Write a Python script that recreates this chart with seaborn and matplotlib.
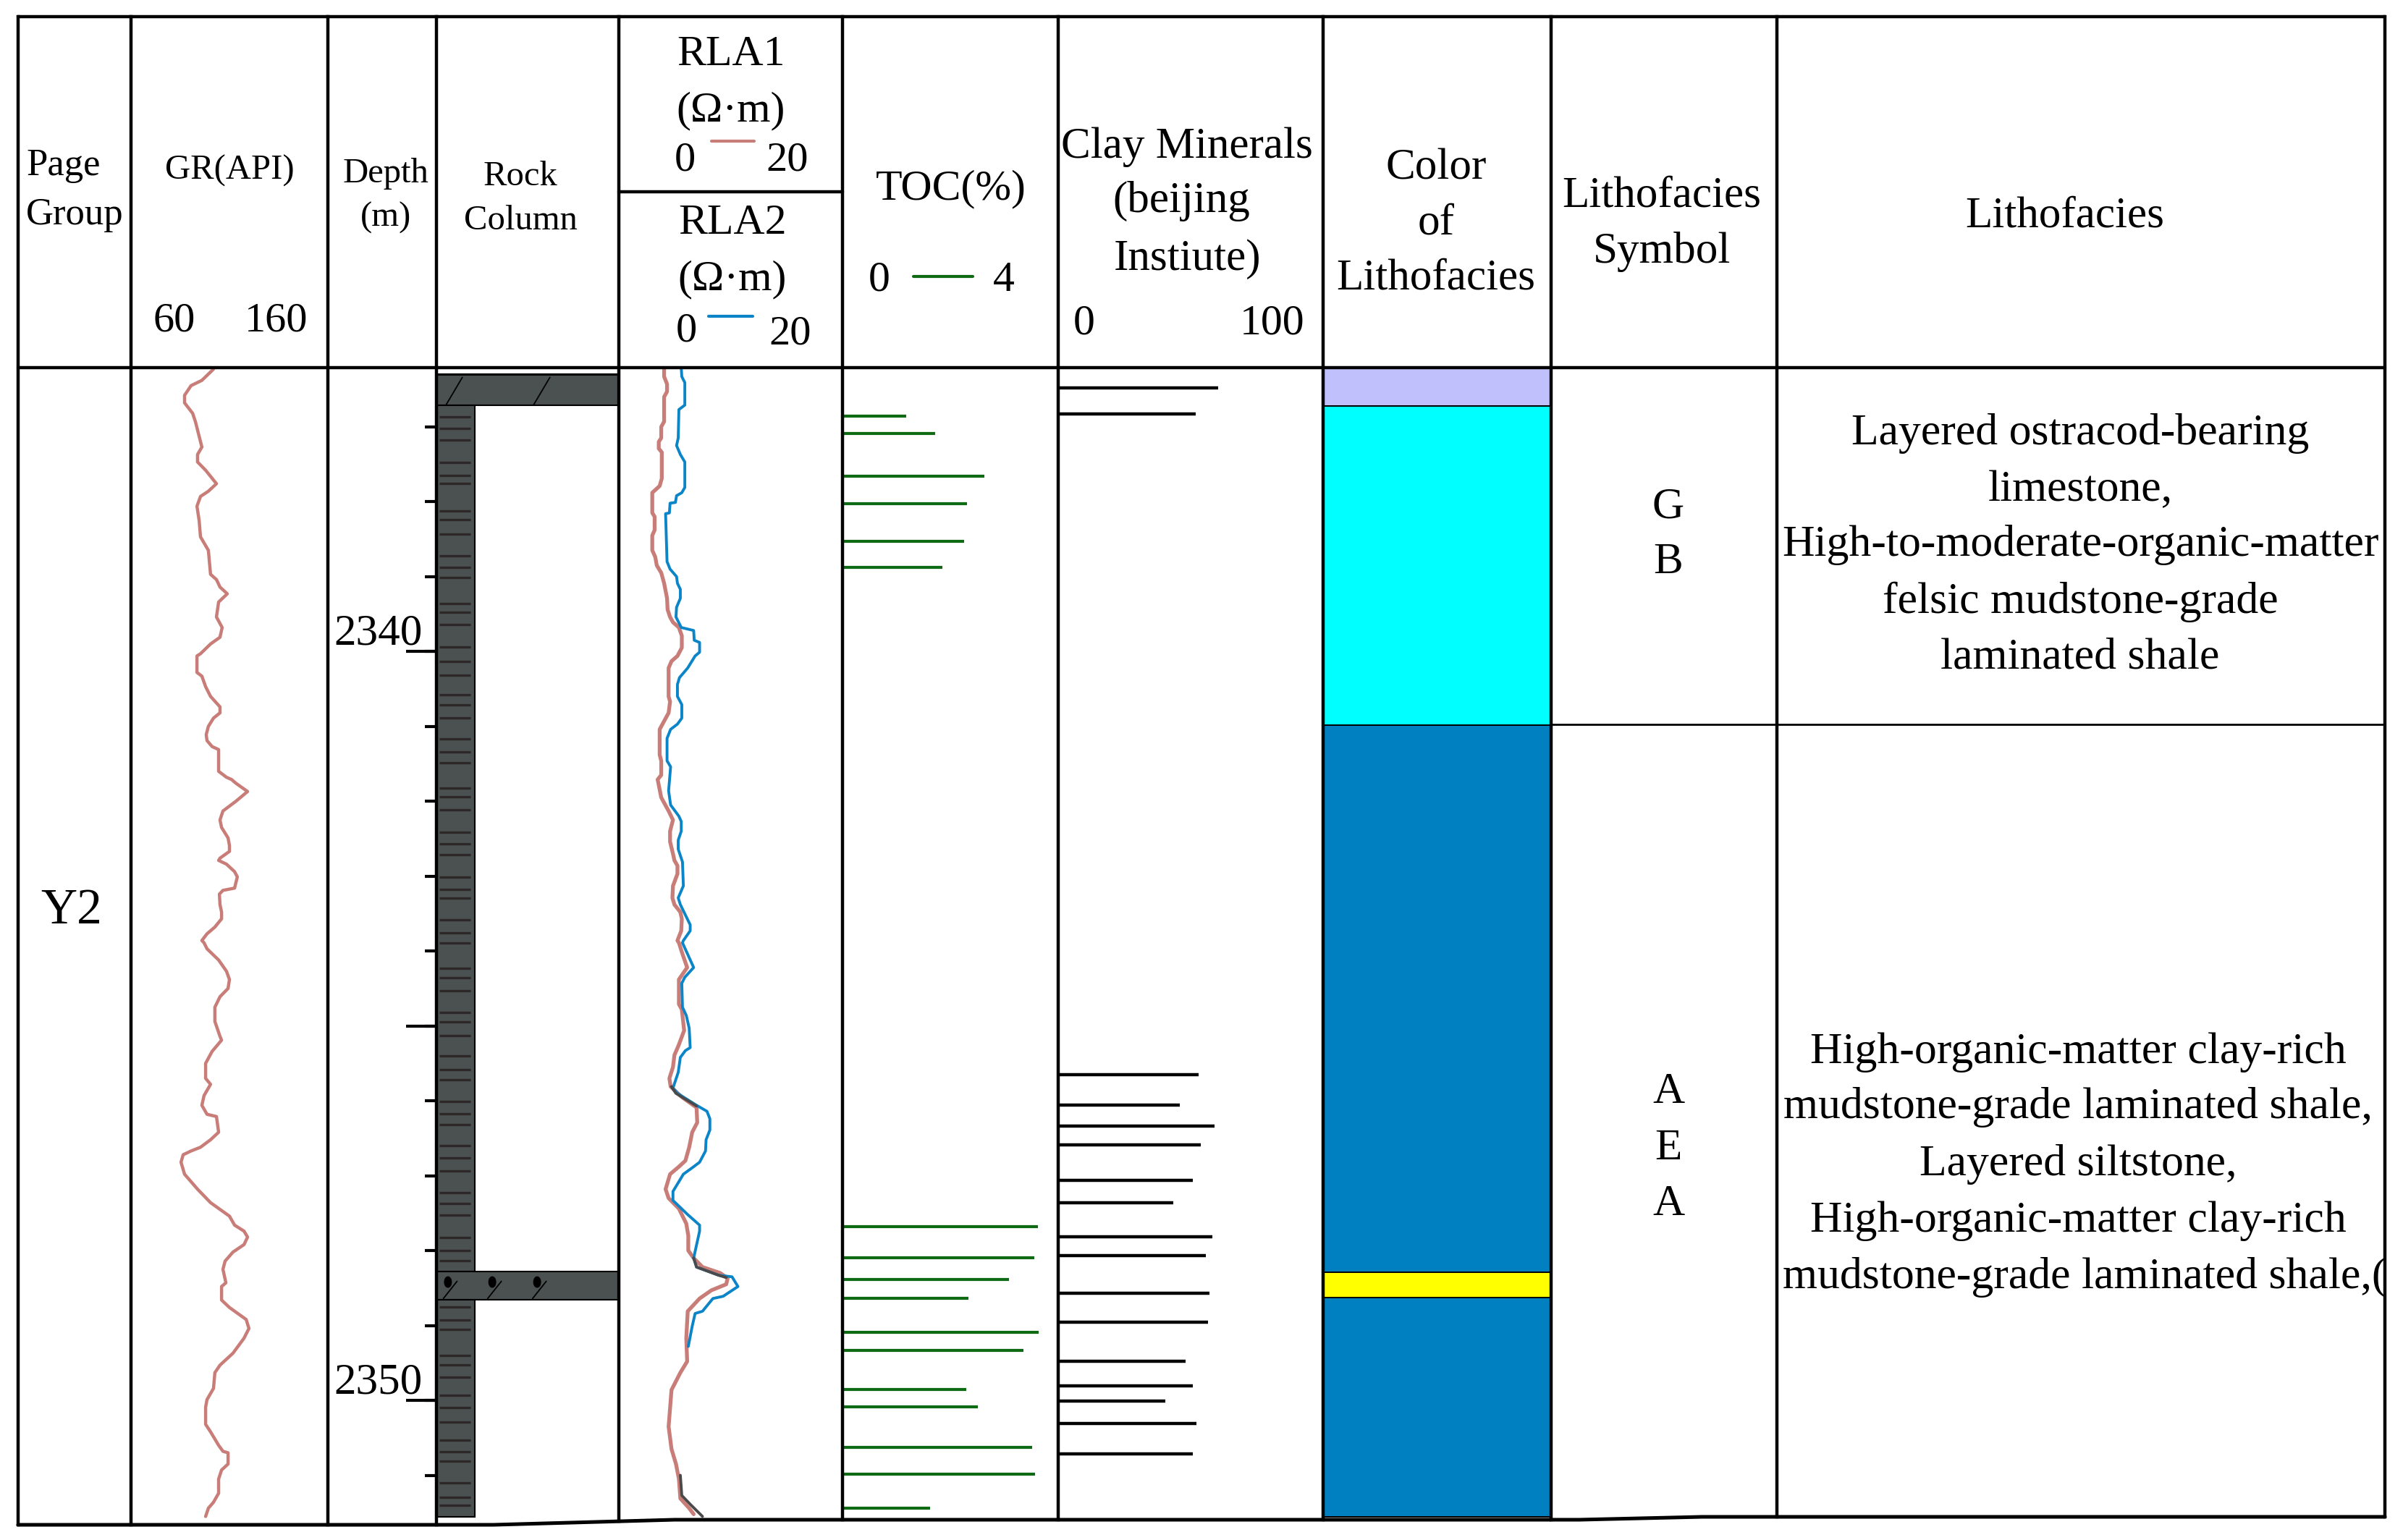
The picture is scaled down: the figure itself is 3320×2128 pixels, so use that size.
import numpy as np
import pandas as pd
import matplotlib
matplotlib.use("Agg")
import matplotlib.pyplot as plt
import seaborn as sns
from matplotlib.patches import Ellipse

sns.set_theme(style="white")
plt.rcParams["font.family"] = ["Liberation Serif", "DejaVu Serif"]

# ---------------- data ----------------
gr_depth = [2336.23, 2336.38, 2336.45, 2336.58, 2336.68, 2336.82, 2336.93, 2337.20, 2337.27, 2337.37,
            2337.47, 2337.58, 2337.76, 2337.86, 2337.93, 2338.06, 2338.25, 2338.47, 2338.65, 2338.97,
            2339.04, 2339.14, 2339.23, 2339.34, 2339.54, 2339.68, 2339.81, 2339.90, 2340.03, 2340.06,
            2340.28, 2340.33, 2340.47, 2340.60, 2340.74, 2340.82, 2340.89, 2341.00, 2341.11, 2341.19,
            2341.27, 2341.31, 2341.60, 2341.68, 2341.71, 2341.76, 2341.87, 2342.00, 2342.13, 2342.25,
            2342.35, 2342.49, 2342.59, 2342.67, 2342.76, 2342.79, 2342.84, 2342.94, 2343.01, 2343.16,
            2343.19, 2343.24, 2343.38, 2343.48, 2343.57, 2343.68, 2343.77, 2343.86, 2343.89, 2343.97,
            2344.12, 2344.27, 2344.38, 2344.50, 2344.61, 2344.75, 2344.94, 2345.14, 2345.19, 2345.34,
            2345.50, 2345.70, 2345.78, 2345.93, 2346.06, 2346.18, 2346.21, 2346.42, 2346.52, 2346.62,
            2346.67, 2346.72, 2346.82, 2346.98, 2347.18, 2347.36, 2347.54, 2347.66, 2347.74, 2347.82,
            2347.92, 2348.02, 2348.14, 2348.25, 2348.43, 2348.48, 2348.66, 2348.76, 2348.92, 2349.04,
            2349.17, 2349.37, 2349.53, 2349.63, 2349.84, 2349.99, 2350.09, 2350.32, 2350.42, 2350.60,
            2350.68, 2350.70, 2350.85, 2350.93, 2351.05, 2351.24, 2351.36, 2351.44, 2351.55]
gr_api = [101.9, 96.0, 90.5, 87.2, 87.2, 91.3, 92.7, 95.3, 96.0, 93.8,
          93.8, 97.9, 103.4, 99.3, 95.3, 93.5, 94.6, 95.3, 99.3, 100.4,
          103.4, 105.2, 108.9, 104.5, 103.4, 106.3, 105.2, 100.4, 95.3, 93.5,
          93.5, 96.0, 97.9, 100.4, 105.2, 105.2, 101.9, 99.3, 98.2, 98.6,
          101.2, 104.5, 104.5, 108.5, 111.1, 113.3, 119.2, 113.3, 106.7, 105.2,
          106.0, 109.3, 110.0, 110.0, 105.2, 104.5, 108.5, 112.6, 114.0, 112.6,
          106.7, 104.9, 105.2, 106.0, 106.0, 102.6, 98.6, 96.0, 97.1, 98.6,
          104.5, 108.5, 110.0, 109.3, 105.2, 102.6, 102.6, 105.2, 106.0, 101.2,
          97.9, 97.9, 100.4, 97.1, 96.0, 98.6, 103.4, 104.5, 100.4, 95.3,
          90.5, 86.5, 85.4, 87.2, 93.8, 100.4, 110.0, 112.6, 117.4, 119.2,
          117.4, 111.8, 107.8, 106.7, 108.2, 106.0, 106.0, 110.0, 118.5, 119.9,
          117.4, 111.8, 105.2, 102.6, 101.9, 98.6, 97.9, 97.9, 100.4, 104.5,
          106.7, 109.3, 109.3, 106.0, 104.5, 104.5, 101.9, 99.3, 97.9]

rla1_depth = [2336.22, 2336.33, 2336.43, 2336.53, 2336.60, 2336.93, 2337.00, 2337.15, 2337.20, 2337.29,
              2337.34, 2337.69, 2337.79, 2337.88, 2338.15, 2338.20, 2338.38, 2338.45, 2338.65, 2338.74,
              2338.85, 2338.95, 2339.09, 2339.29, 2339.44, 2339.54, 2339.61, 2339.68, 2339.79, 2339.95,
              2340.06, 2340.13, 2340.22, 2340.60, 2340.67, 2340.82, 2341.04, 2341.38, 2341.46, 2341.65,
              2341.71, 2341.95, 2342.13, 2342.25, 2342.40, 2342.54, 2342.70, 2342.79, 2342.86, 2342.97,
              2343.13, 2343.29, 2343.38, 2343.48, 2343.57, 2343.73, 2343.86, 2343.89, 2344.04, 2344.22,
              2344.38, 2344.71, 2344.78, 2345.06, 2345.25, 2345.39, 2345.55, 2345.70, 2345.81, 2345.95,
              2346.09, 2346.29, 2346.42, 2346.62, 2346.80, 2346.88, 2346.98, 2347.18, 2347.30, 2347.44,
              2347.64, 2347.80, 2348.00, 2348.10, 2348.22, 2348.30, 2348.37, 2348.45, 2348.53, 2348.64,
              2348.81, 2349.17, 2349.48, 2349.63, 2349.86, 2350.35, 2350.65, 2350.85, 2351.05, 2351.31,
              2351.44, 2351.52]
rla1_ohm = [4.05, 4.05, 4.31, 4.31, 4.05, 4.05, 3.79, 3.79, 3.57, 3.57,
            3.84, 3.84, 3.65, 2.99, 2.99, 3.20, 3.20, 2.99, 2.99, 3.26,
            3.39, 3.79, 4.05, 4.31, 4.36, 4.58, 4.84, 5.37, 5.63, 5.63,
            5.24, 4.71, 4.45, 4.45, 4.58, 4.45, 3.65, 3.65, 3.79, 3.79,
            3.47, 3.79, 4.45, 4.84, 4.58, 4.58, 4.84, 4.97, 5.24, 5.24,
            4.84, 4.79, 4.97, 5.50, 5.63, 5.58, 5.24, 5.37, 5.69, 6.11,
            5.37, 5.37, 5.63, 5.84, 5.37, 4.97, 4.84, 4.52, 4.63, 5.63,
            6.95, 7.01, 6.56, 6.29, 5.95, 5.37, 4.58, 4.18, 4.45, 5.37,
            6.03, 6.21, 6.21, 6.69, 7.48, 9.07, 9.73, 9.60, 8.28, 7.22,
            6.16, 6.03, 6.11, 5.50, 4.71, 4.45, 4.71, 5.11, 5.37, 5.50,
            6.29, 6.69]

rla2_depth = [2336.21, 2336.33, 2336.41, 2336.71, 2336.77, 2337.15, 2337.25, 2337.37, 2337.47, 2337.81,
              2337.88, 2337.92, 2338.01, 2338.02, 2338.15, 2338.16, 2338.80, 2338.90, 2339.00, 2339.09,
              2339.17, 2339.29, 2339.41, 2339.54, 2339.68, 2339.72, 2339.85, 2339.88, 2340.01, 2340.06,
              2340.22, 2340.35, 2340.44, 2340.60, 2340.71, 2340.89, 2340.97, 2341.04, 2341.16, 2341.46,
              2341.54, 2341.86, 2342.05, 2342.20, 2342.27, 2342.40, 2342.52, 2342.64, 2342.81, 2343.13,
              2343.29, 2343.38, 2343.65, 2343.73, 2343.86, 2343.89, 2344.22, 2344.35, 2344.43, 2344.75,
              2344.86, 2345.03, 2345.29, 2345.33, 2345.42, 2345.62, 2345.83, 2345.90, 2346.06, 2346.14,
              2346.24, 2346.39, 2346.52, 2346.67, 2346.82, 2346.88, 2346.98, 2347.21, 2347.33, 2347.52,
              2347.66, 2347.74, 2348.10, 2348.22, 2348.33, 2348.35, 2348.48, 2348.61, 2348.64, 2348.81,
              2348.84, 2349.01, 2349.28]
rla2_ohm = [5.58, 5.63, 5.90, 5.90, 5.37, 5.31, 5.16, 5.50, 5.90, 5.90,
            5.63, 5.16, 5.06, 4.58, 4.52, 4.18, 4.31, 4.58, 5.16, 5.24,
            5.50, 5.50, 5.16, 5.11, 5.58, 6.69, 6.74, 7.22, 7.22, 6.82,
            6.16, 5.42, 5.24, 5.24, 5.63, 5.63, 5.24, 4.63, 4.31, 4.31,
            4.63, 4.45, 4.63, 5.37, 5.58, 5.58, 5.31, 5.31, 5.69, 5.77,
            5.31, 5.50, 6.38, 6.38, 5.77, 5.69, 6.69, 5.90, 5.63, 5.69,
            6.03, 6.29, 6.38, 5.95, 5.50, 5.31, 4.84, 5.24, 6.95, 7.88,
            8.14, 8.14, 7.80, 7.75, 7.22, 6.69, 5.77, 4.84, 4.84, 6.16,
            7.22, 7.22, 6.69, 6.95, 8.94, 10.12, 10.65, 9.33, 8.41, 7.48,
            6.82, 6.56, 6.21]

# overlapping (dark) pieces of the resistivity curves
ovl_seg = [1, 1, 1, 2, 2, 2, 2, 3, 3, 3, 3]
ovl_depth = [2345.81, 2345.90, 2346.07, 2348.10, 2348.22, 2348.33, 2348.36, 2351.00, 2351.27, 2351.39, 2351.55]
ovl_ohm = [4.70, 5.10, 6.95, 6.69, 6.95, 8.94, 9.60, 5.50, 5.63, 6.40, 7.48]

toc_depth = [2336.86, 2337.09, 2337.66, 2338.03, 2338.53, 2338.88, 2347.68, 2348.10, 2348.39,
             2348.64, 2349.09, 2349.33, 2349.85, 2350.09, 2350.63, 2350.99, 2351.44]
toc_pct = [1.18, 1.72, 2.63, 2.31, 2.25, 1.85, 3.62, 3.56, 3.09,
           2.34, 3.64, 3.36, 2.30, 2.51, 3.52, 3.57, 1.62]

clay_depth = [2336.48, 2336.83, 2345.65, 2346.06, 2346.34, 2346.59, 2347.06, 2347.36, 2347.82,
              2348.07, 2348.57, 2348.96, 2349.48, 2349.81, 2350.01, 2350.31, 2350.71]
clay_pct = [60.4, 51.9, 53.0, 45.9, 59.0, 53.8, 50.8, 43.4, 58.2,
            55.7, 57.1, 56.6, 48.1, 50.8, 40.4, 52.2, 50.8]

color_top = [2336.22, 2336.72, 2340.98, 2348.29, 2348.63]
color_bottom = [2336.72, 2340.98, 2348.29, 2348.63, 2351.56]
color_fill = ["#c0c0fc", "#00ffff", "#0080c0", "#ffff00", "#0080c0"]

rock_top = [2336.30, 2336.71, 2348.28, 2348.66]
rock_bottom = [2336.71, 2348.28, 2348.66, 2351.56]
rock_width = [1.0, 0.21, 1.0, 0.21]
lamination_depth = [2336.87, 2337.02, 2337.18, 2337.48, 2337.65, 2337.76, 2338.12, 2338.24, 2338.43,
                    2338.72, 2338.88, 2339.01, 2339.36, 2339.48, 2339.64, 2339.94, 2340.13, 2340.32,
                    2340.58, 2340.71, 2340.89, 2341.17, 2341.34, 2341.49, 2341.82, 2341.94, 2342.11,
                    2342.41, 2342.57, 2342.71, 2343.01, 2343.18, 2343.29, 2343.58, 2343.76, 2343.89,
                    2344.23, 2344.36, 2344.53, 2344.82, 2344.95, 2345.13, 2345.40, 2345.58, 2345.72,
                    2346.01, 2346.17, 2346.32, 2346.60, 2346.76, 2346.94, 2347.23, 2347.37, 2347.53,
                    2347.83, 2348.00, 2348.13, 2348.75, 2348.93, 2349.05, 2349.40, 2349.53, 2349.69,
                    2349.93, 2350.10, 2350.29, 2350.53, 2350.69, 2350.81, 2351.10, 2351.29, 2351.40]
ostracod_x = [0.063, 0.306, 0.552]
ostracod_depth = 2348.42
limestone_x = [0.052, 0.532]

depth_ticks = list(range(2337, 2352))
depth_major = [2340, 2345, 2350]
depth_labels = [2340, 2350]

group_name = "Y2"
facies_symbols = ["G\nB", "A\nE\nA"]
facies_text_upper = ["Layered ostracod-bearing", "limestone,", "High-to-moderate-organic-matter",
                     "felsic mudstone-grade", "laminated shale"]
facies_text_lower = ["High-organic-matter clay-rich", "mudstone-grade laminated shale,",
                     "Layered siltstone,", "High-organic-matter clay-rich",
                     "mudstone-grade laminated shale,("]

# ---------------- layout ----------------
W, H, DPI = 3320, 2128, 100
DEPTH_TOP, DEPTH_BOT = 2336.21, 2351.594
BODY_TOP, BODY_BOT = 508, 2100
GR_COL = "#c97d78"
BLUE_COL = "#0b84c8"
GREEN_COL = "#0f6a14"
ROCK_COL = "#4b5151"

fig = plt.figure(figsize=(W / DPI, H / DPI), dpi=DPI)
fig.patch.set_facecolor("white")


def px_axes(x0, y0, x1, y1, z=1):
    ax = fig.add_axes([x0 / W, 1 - y1 / H, (x1 - x0) / W, (y1 - y0) / H], zorder=z)
    ax.set_axis_off()
    return ax


def track(x0, x1, xlim):
    ax = px_axes(x0, BODY_TOP, x1, BODY_BOT)
    ax.set_xlim(*xlim)
    ax.set_ylim(DEPTH_BOT, DEPTH_TOP)
    return ax


# GR track
ax_gr = track(181, 453, (60, 160))
sns.lineplot(x=gr_api, y=gr_depth, sort=False, estimator=None, orient="y",
             color=GR_COL, linewidth=3.2, ax=ax_gr)
ax_gr.set_xlim(60, 160); ax_gr.set_ylim(DEPTH_BOT, DEPTH_TOP); ax_gr.set_axis_off()

# Depth track
ax_d = track(453, 603, (0, 1))
ax_d.hlines(depth_ticks, 0.893, 1.0, color="black", lw=3)
ax_d.hlines(depth_major, 0.72, 1.0, color="black", lw=3)
for d in depth_labels:
    ax_d.text(0.873, d - 0.097, str(d), ha="right", va="baseline", fontsize=44, color="black")

# Rock column
ax_r = track(603, 855, (0, 1))
for t, b, w in zip(rock_top, rock_bottom, rock_width):
    ax_r.barh(y=(t + b) / 2, width=w, height=b - t, left=0, color=ROCK_COL,
              edgecolor="black", linewidth=1.5)
ax_r.hlines(lamination_depth, 0.016, 0.187, color="#2d2727", lw=2.4)
for lx in limestone_x:
    ax_r.plot([lx, lx + 0.09], [rock_bottom[0], rock_top[0] + 0.04], color="black", lw=1.3)
for ox in ostracod_x:
    ax_r.add_patch(Ellipse((ox, ostracod_depth), 0.038, 0.14, color="black"))
    ax_r.plot([ox - 0.025, ox + 0.05], [ostracod_depth + 0.22, ostracod_depth - 0.01],
              color="black", lw=1.3)

# Resistivity track
ax_rla = track(855, 1164, (0, 20))
sns.lineplot(x=rla1_ohm, y=rla1_depth, sort=False, estimator=None, orient="y",
             color=GR_COL, linewidth=3.8, ax=ax_rla)
sns.lineplot(x=rla2_ohm, y=rla2_depth, sort=False, estimator=None, orient="y",
             color=BLUE_COL, linewidth=2.8, ax=ax_rla)
ovl = pd.DataFrame({"seg": ovl_seg, "depth": ovl_depth, "ohm": ovl_ohm})
sns.lineplot(data=ovl, x="ohm", y="depth", units="seg", sort=False, estimator=None,
             orient="y", color="#4a4a4a", linewidth=2.8, ax=ax_rla, legend=False)
ax_rla.set_xlim(0, 20); ax_rla.set_ylim(DEPTH_BOT, DEPTH_TOP); ax_rla.set_axis_off()

# TOC track
ax_toc = track(1164, 1462, (0, 4))
ax_toc.hlines(toc_depth, 0, toc_pct, color=GREEN_COL, lw=3.0)

# Clay track
ax_clay = track(1462, 1828, (0, 100))
ax_clay.hlines(clay_depth, 0, clay_pct, color="black", lw=3.2)

# Colour of lithofacies
ax_c = track(1828, 2143, (0, 1))
for t, b, c in zip(color_top, color_bottom, color_fill):
    ax_c.barh(y=(t + b) / 2, width=1, height=b - t, left=0, color=c,
              edgecolor="black", linewidth=1.4)

# ---------------- frame & text overlay ----------------
ax_f = px_axes(0, 0, W, H, z=10)
ax_f.set_xlim(0, W); ax_f.set_ylim(H, 0)
LW = 3.2
col_x = [25, 181, 453, 603, 855, 1164, 1462, 1828, 2143, 2455, 3295]
bx = [25, 682, 932, 2182, 2352, 3295]
by = [2107, 2107, 2100, 2100, 2096, 2096]
for x in col_x:
    ax_f.plot([x, x], [23, np.interp(x, bx, by)], color="black", lw=LW, solid_capstyle="projecting")
ax_f.plot(bx, by, color="black", lw=3.6)
ax_f.plot([25, 3295], [23, 23], color="black", lw=LW)
ax_f.plot([25, 3295], [508, 508], color="black", lw=LW)
ax_f.plot([855, 1164], [265, 265], color="black", lw=LW)
ax_f.plot([603, 855], [518, 518], color="black", lw=1.5)
ax_f.plot([2143, 3295], [1001, 1001], color="black", lw=2)

# header legend dashes
ax_f.plot([983, 1042], [195, 195], color=GR_COL, lw=3)
ax_f.plot([979, 1040], [437, 437], color=BLUE_COL, lw=3)
ax_f.plot([1262, 1344], [382, 382], color=GREEN_COL, lw=3)

headers = [
    ("Page", 36, 242, 38, "left"), ("Group", 36, 310, 38, "left"),
    ("GR(API)", 317, 248, 35, "center"),
    ("60", 241, 458, 42, "center"), ("160", 382, 458, 42, "center"),
    ("Depth", 533, 252, 35, "center"), ("(m)", 533, 313, 35, "center"),
    ("Rock", 719, 256, 35, "center"), ("Column", 719, 317, 35, "center"),
    ("RLA1", 1010, 90, 43, "center"), ("(\u03a9\u00b7m)", 1010, 167, 43, "center"),
    ("0", 946, 235, 42, "center"), ("20", 1088, 235, 42, "center"),
    ("RLA2", 1012, 323, 43, "center"), ("(\u03a9\u00b7m)", 1012, 400, 43, "center"),
    ("0", 948, 472, 42, "center"), ("20", 1092, 476, 42, "center"),
    ("TOC(%)", 1314, 275, 43, "center"),
    ("0", 1215, 402, 43, "center"), ("4", 1387, 402, 43, "center"),
    ("Clay Minerals", 1640, 218, 44, "center"), ("(beijing", 1632, 293, 44, "center"),
    ("Instiute)", 1640, 373, 44, "center"),
    ("0", 1498, 462, 43, "center"), ("100", 1758, 462, 43, "center"),
    ("Color", 1984, 247, 44, "center"), ("of", 1984, 323, 44, "center"),
    ("Lithofacies", 1984, 400, 44, "center"),
    ("Lithofacies", 2296, 285, 44, "center"), ("Symbol", 2296, 363, 44, "center"),
    ("Lithofacies", 2853, 313, 44, "center"),
]
for s, x, y, fs, ha in headers:
    ax_f.text(x, y, s, fontsize=fs, ha=ha, va="baseline", color="black")

ax_f.text(99, 1276, group_name, fontsize=50, ha="center", va="baseline", color="black")

for sym, ys in zip(facies_symbols, [[715, 792], [1524, 1602, 1679]]):
    for ch, y in zip(sym.split("\n"), ys):
        ax_f.text(2305, y, ch, fontsize=44, ha="center", va="baseline", color="black")

for s, y in zip(facies_text_upper, [614, 692, 768, 847, 923]):
    ax_f.text(2874, y, s, fontsize=44.5, ha="center", va="baseline", color="black")

ax_clip = px_axes(2455, 1001, 3295, 2100, z=11)
ax_clip.set_xlim(2455, 3295); ax_clip.set_ylim(2100, 1001)
for i, (s, y) in enumerate(zip(facies_text_lower, [1469, 1545, 1624, 1702, 1780])):
    if i == len(facies_text_lower) - 1:
        ax_clip.text(2463, y, s, fontsize=44.5, ha="left", va="baseline", color="black", clip_on=True)
    else:
        ax_clip.text(2871, y, s, fontsize=44.5, ha="center", va="baseline", color="black", clip_on=True)

fig.savefig("out.png", dpi=DPI, facecolor="white")
